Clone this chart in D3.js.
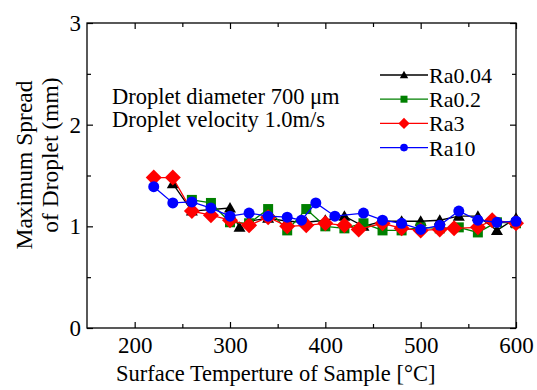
<!DOCTYPE html>
<html>
<head>
<meta charset="utf-8">
<script src="https://cdn.jsdelivr.net/npm/d3@7"></script>
<style>
  body { margin: 0; background: #fff; }
  svg { display: block; }
</style>
</head>
<body>
<svg id="chart" width="537" height="390"></svg>
<script>
// Data
var ra004X = [240, 260, 300, 310, 320, 340, 360, 380, 400, 420, 440, 460, 480, 500, 520, 540, 560, 580, 600];
var ra004Y = [1.42, 1.15, 1.18, 0.99, 1.05, 1.08, 1.05, 1.04, 1.06, 1.10, 1.00, 1.05, 1.05, 1.05, 1.06, 1.10, 1.10, 0.96, 1.08];

var ra02X = [260, 280, 300, 320, 340, 360, 380, 400, 420, 440, 460, 480, 500, 520, 540, 560, 580, 600];
var ra02Y = [1.26, 1.23, 1.04, 1.03, 1.17, 0.96, 1.17, 1.00, 0.98, 1.03, 0.96, 0.96, 0.99, 0.98, 0.99, 0.94, 1.04, 1.03];

var ra3X = [220, 240, 260, 280, 300, 320, 340, 360, 380, 400, 420, 435, 460, 480, 500, 520, 535, 560, 575, 600];
var ra3Y = [1.48, 1.48, 1.15, 1.11, 1.06, 1.01, 1.09, 1.00, 1.01, 1.03, 1.01, 0.97, 1.03, 0.98, 0.96, 0.97, 0.98, 0.99, 1.06, 1.03];

var ra10X = [220, 240, 260, 280, 300, 320, 340, 360, 375, 390, 410, 440, 460, 480, 500, 520, 540, 560, 580, 600];
var ra10Y = [1.39, 1.23, 1.24, 1.18, 1.10, 1.13, 1.10, 1.09, 1.06, 1.23, 1.10, 1.13, 1.06, 1.03, 0.97, 1.01, 1.15, 1.06, 1.04, 1.05];

var seriesNames = ["Ra0.04", "Ra0.2", "Ra3", "Ra10"];
var xTicks = [200, 300, 400, 500, 600];
var yTicks = [0, 1, 2, 3];
var noteLines = ["Droplet diameter 700 \u03bcm", "Droplet velocity 1.0m/s"];

var svg = d3.select("#chart");
var font = "'Liberation Serif', 'Times New Roman', serif";

// plot frame in pixels
var pL = 87, pR = 516, pT = 23, pB = 328;

var x = d3.scaleLinear().domain([150, 600]).range([pL, pR]);
var y = d3.scaleLinear().domain([0, 3]).range([pB, pT]);

var series = [
  { name: seriesNames[0], xs: ra004X, ys: ra004Y, color: "#000000", shape: "triangle" },
  { name: seriesNames[1], xs: ra02X, ys: ra02Y, color: "#008000", shape: "square" },
  { name: seriesNames[2], xs: ra3X, ys: ra3Y, color: "#ff0000", shape: "diamond" },
  { name: seriesNames[3], xs: ra10X, ys: ra10Y, color: "#0000ff", shape: "circle" }
];

function markerPath(shape) {
  if (shape === "triangle") return "M0,-6L6,4.5L-6,4.5Z";
  if (shape === "square") return "M-5,-5H5V5H-5Z";
  if (shape === "diamond") return "M0,-8L8,0L0,8L-8,0Z";
  return d3.symbol().type(d3.symbolCircle).size(95)();
}

// axes (ticks point inward)
function styleAxis(g) {
  g.selectAll(".domain").remove();
  g.selectAll("line").attr("stroke", "#000").attr("stroke-width", 1.2);
  g.selectAll("text").attr("font-family", font).attr("font-size", 23).attr("fill", "#000");
}

var minorX = [250, 350, 450, 550];
var minorY = [0.5, 1.5, 2.5];

svg.append("g").attr("transform", "translate(0," + pB + ")")
  .call(d3.axisBottom(x).tickValues(xTicks).tickSize(-6).tickPadding(9).tickFormat(d3.format("d")))
  .call(styleAxis);
svg.append("g").attr("transform", "translate(0," + pB + ")")
  .call(d3.axisBottom(x).tickValues(minorX).tickSize(-4).tickFormat(""))
  .call(styleAxis);
svg.append("g").attr("transform", "translate(0," + pT + ")")
  .call(d3.axisTop(x).tickValues(xTicks).tickSize(-6).tickFormat(""))
  .call(styleAxis);
svg.append("g").attr("transform", "translate(0," + pT + ")")
  .call(d3.axisTop(x).tickValues(minorX).tickSize(-4).tickFormat(""))
  .call(styleAxis);

svg.append("g").attr("transform", "translate(" + pL + ",0)")
  .call(d3.axisLeft(y).tickValues(yTicks).tickSize(-6).tickPadding(6).tickFormat(d3.format("d")))
  .call(styleAxis);
svg.append("g").attr("transform", "translate(" + pL + ",0)")
  .call(d3.axisLeft(y).tickValues(minorY).tickSize(-4).tickFormat(""))
  .call(styleAxis);
svg.append("g").attr("transform", "translate(" + pR + ",0)")
  .call(d3.axisRight(y).tickValues(yTicks).tickSize(-6).tickFormat(""))
  .call(styleAxis);
svg.append("g").attr("transform", "translate(" + pR + ",0)")
  .call(d3.axisRight(y).tickValues(minorY).tickSize(-4).tickFormat(""))
  .call(styleAxis);

svg.append("rect")
  .attr("x", pL).attr("y", pT)
  .attr("width", pR - pL).attr("height", pB - pT)
  .attr("fill", "none").attr("stroke", "#000").attr("stroke-width", 1.3);

// series
var line = d3.line()
  .x(function(d) { return x(d[0]); })
  .y(function(d) { return y(d[1]); });

series.forEach(function(s) {
  var pts = s.xs.map(function(v, i) { return [v, s.ys[i]]; });
  var g = svg.append("g");
  g.append("path")
    .datum(pts)
    .attr("d", line)
    .attr("fill", "none")
    .attr("stroke", s.color)
    .attr("stroke-width", 1.3);
  g.selectAll("path.pt")
    .data(pts)
    .enter().append("path")
    .attr("class", "pt")
    .attr("transform", function(d) { return "translate(" + x(d[0]) + "," + y(d[1]) + ")"; })
    .attr("d", markerPath(s.shape))
    .attr("fill", s.color);
});

// legend
var legend = svg.append("g").attr("transform", "translate(380,75)");
var rows = legend.selectAll("g")
  .data(series)
  .enter().append("g")
  .attr("transform", function(d, i) { return "translate(0," + i * 24.2 + ")"; });
rows.append("line")
  .attr("x1", 0).attr("x2", 48).attr("y1", 0).attr("y2", 0)
  .attr("stroke", function(d) { return d.color; })
  .attr("stroke-width", 1.3);
rows.append("path")
  .attr("transform", "translate(24,0) scale(0.7)")
  .attr("d", function(d) { return markerPath(d.shape); })
  .attr("fill", function(d) { return d.color; });
rows.append("text")
  .attr("x", 49).attr("y", 8)
  .attr("font-family", font).attr("font-size", 22)
  .text(function(d) { return d.name; });

// note
svg.append("g").selectAll("text")
  .data(noteLines)
  .enter().append("text")
  .attr("x", 112)
  .attr("y", function(d, i) { return 104 + i * 23; })
  .attr("font-family", font).attr("font-size", 22.5)
  .text(function(d) { return d; });

// axis titles
svg.append("text")
  .attr("x", 116).attr("y", 381)
  .attr("font-family", font).attr("font-size", 22.5)
  .text("Surface Temperture of Sample [\u00b0C]");

svg.append("text")
  .attr("transform", "translate(32,165) rotate(-90)")
  .attr("text-anchor", "middle")
  .attr("font-family", font).attr("font-size", 23.5)
  .text("Maximum Spread");
svg.append("text")
  .attr("transform", "translate(58,155) rotate(-90)")
  .attr("text-anchor", "middle")
  .attr("font-family", font).attr("font-size", 23.5)
  .text("of Droplet (mm)");
</script>
</body>
</html>
